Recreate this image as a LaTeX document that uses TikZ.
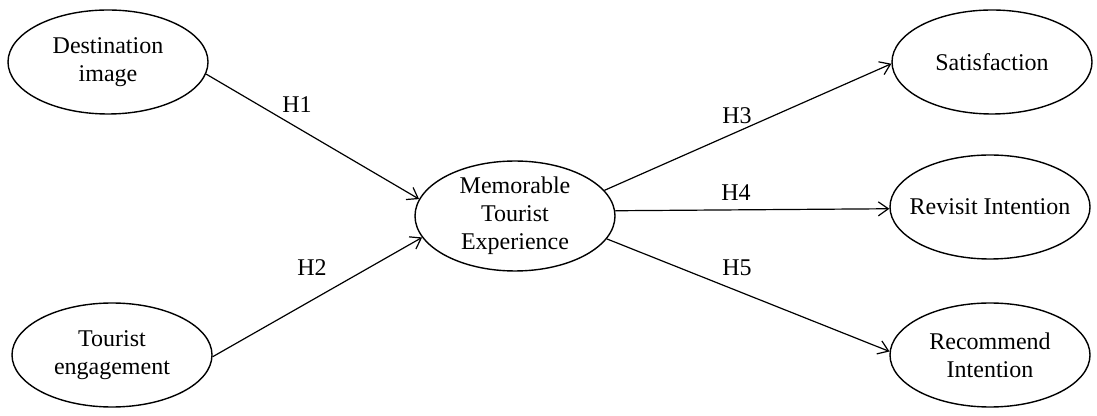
\documentclass[tikz,border=0pt]{standalone}
\usepackage{fontspec}
\setmainfont{Liberation Serif}
\usetikzlibrary{shapes.geometric,arrows.meta}
\begin{document}
\begin{tikzpicture}[x=0.5pt,y=-0.5pt,
  var/.style={draw, ellipse, line width=0.7pt, inner sep=0pt, minimum width=100pt, minimum height=52pt, align=center, font=\fontsize{12}{14}\selectfont},
  path/.style={line width=0.6pt, -{Straight Barb[length=5pt,width=7pt]}},
  hyp/.style={font=\fontsize{12}{14}\selectfont, inner sep=0pt}]
\useasboundingbox (0,0) rectangle (1097,416);
\node[var] (di) at (108,62) {Destination\\image};
\node[var] (te) at (112,355) {Tourist\\engagement};
\node[var] (mte) at (515,216) {Memorable\\Tourist\\Experience};
\node[var] (sat) at (992,62) {Satisfaction};
\node[var, inner xsep=-15pt] (rev) at (990,207) {Revisit Intention};
\node[var] (rec) at (990,355) {Recommend\\Intention};
\draw[path] (di.-7) -- (mte.170);
\draw[path] (te.-1) -- (mte.193);
\draw[path] (mte.16) -- (sat.181);
\draw[path] (mte.3) -- (rev.181);
\draw[path] (mte.-14) -- (rec.178);
\node[hyp] (h1) at (297,105) {H1};
\node[hyp] (h2) at (312,268) {H2};
\node[hyp] (h3) at (737,116) {H3};
\node[hyp] (h4) at (736,193) {H4};
\node[hyp] (h5) at (737,268) {H5};
\end{tikzpicture}
\end{document}
